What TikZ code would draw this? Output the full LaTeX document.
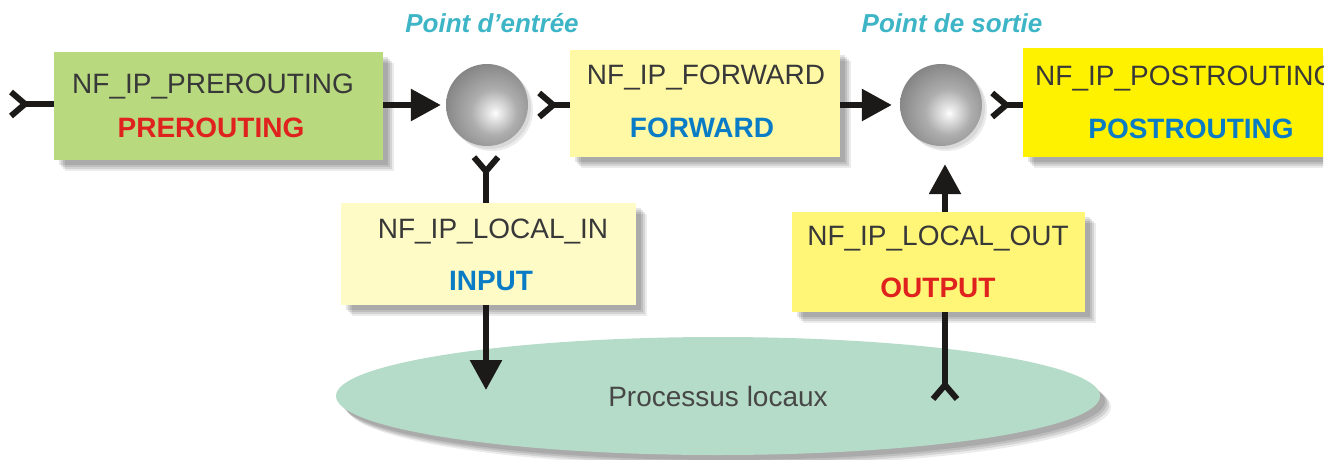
\documentclass[tikz,border=0pt]{standalone}
\usepackage{fontspec}
\setmainfont{Liberation Sans}
\usetikzlibrary{arrows.meta,shadows,shapes.geometric}
\definecolor{grn}{HTML}{B8D97E}
\definecolor{ylwfwd}{HTML}{FFF9A6}
\definecolor{ylwin}{HTML}{FFFBC6}
\definecolor{ylwout}{HTML}{FFF677}
\definecolor{ylwpost}{HTML}{FFF200}
\definecolor{ellc}{HTML}{B5DCC8}
\definecolor{hred}{HTML}{E0221E}
\definecolor{hblue}{HTML}{0A7CC6}
\definecolor{tealc}{HTML}{3DB5C6}
\definecolor{ink}{HTML}{1C1A18}
\pgfdeclareradialshading{spherefill}{\pgfpoint{5bp}{-5bp}}{color(0bp)=(white); color(3bp)=(white!92!black); color(14bp)=(white!68!black); color(30bp)=(white!52!black); color(45bp)=(white!40!black); color(52bp)=(white!35!black); color(100bp)=(white!35!black)}
\begin{document}
\begin{tikzpicture}[x=1pt,y=-1pt,
  softshadow/.style={
    general shadow={fill=black, opacity=.10, shadow xshift=5pt, shadow yshift=-5pt},
    general shadow={fill=black, opacity=.10, shadow xshift=7pt, shadow yshift=-7pt},
    general shadow={fill=black, opacity=.10, shadow xshift=9pt, shadow yshift=-9pt},
    general shadow={fill=black, opacity=.08, shadow xshift=11pt, shadow yshift=-11pt}},
  ballshadow/.style={
    general shadow={fill=black, opacity=.08, shadow xshift=3pt, shadow yshift=-3pt},
    general shadow={fill=black, opacity=.08, shadow xshift=5pt, shadow yshift=-5pt}},
  hookbox/.style={rectangle, inner sep=0, draw=none, softshadow},
  lbl/.style={inner sep=0, text height=20pt, text depth=0pt, font=\fontsize{28}{30}\selectfont, text=black!78},
  hook/.style={inner sep=0, text height=20pt, text depth=0pt, font=\fontsize{28}{30}\selectfont\bfseries},
  point/.style={inner sep=0, font=\fontsize{26}{28}\selectfont\bfseries\itshape, text=tealc},
  ball/.style={circle, minimum size=82pt, inner sep=0, shading=spherefill, ballshadow},
  conn/.style={draw=ink, line width=6pt},
  tailtip/.style={{Straight Barb[reversed, length=14pt, width=24pt, line width=6pt]}-},
  headtip/.style={-{Triangle[length=30pt, width=31pt]}}
]
\useasboundingbox (0,0) rectangle (1338,459);

% local processes
\node[ellipse, minimum width=764pt, minimum height=118pt, inner sep=0, fill=ellc, softshadow,
      font=\fontsize{28}{30}\selectfont, text=black!72] (proc) at (718,396) {Processus locaux};

% boxes
\node[hookbox, fill=grn, minimum width=329pt, minimum height=108pt] (pre) at (218.5,106) {};
\node[hookbox, fill=ylwfwd, minimum width=270pt, minimum height=107pt] (fwd) at (705,103.5) {};
\begin{scope}
  \clip (1000,30) rectangle (1323,190);
  \node[hookbox, fill=ylwpost, minimum width=300pt, minimum height=109pt] (post) at (1173,102.5) {};
  \node[lbl, anchor=west] (post1) at (1035,75) {NF\_IP\_POSTROUTING};
\end{scope}
\node[hookbox, fill=ylwin, minimum width=295pt, minimum height=102pt] (inp) at (488.5,254) {};
\node[hookbox, fill=ylwout, minimum width=293pt, minimum height=100pt] (outb) at (938.5,262) {};

% labels
\node[lbl] (pre1) at (213,83) {NF\_IP\_PREROUTING};
\node[hook, text=hred] (pre2) at (211,127) {PREROUTING};
\node[lbl] (fwd1) at (706,74) {NF\_IP\_FORWARD};
\node[hook, text=hblue] (fwd2) at (702,127) {FORWARD};
\node[hook, text=hblue] (post2) at (1191,128) {POSTROUTING};
\node[lbl] (inp1) at (493,228) {NF\_IP\_LOCAL\_IN};
\node[hook, text=hblue] (inp2) at (491,280) {INPUT};
\node[lbl] (out1) at (938,235) {NF\_IP\_LOCAL\_OUT};
\node[hook, text=hred] (out2) at (938,287) {OUTPUT};

% decision points
\node[ball] (c1) at (487,105) {};
\node[ball] (c2) at (941,105) {};
\node[point] (pin) at (492,23) {Point d'entrée};
\node[point] (pout) at (952,23) {Point de sortie};

% connectors
\coordinate (entry) at (8,104);
\coordinate (toproc) at (486,390);
\coordinate (fromproc) at (945,402);
\draw[conn, tailtip] (entry) -- (entry -| pre.west);
\draw[conn, headtip, shorten >=5pt] (c1.west -| pre.east) -- (c1.west);
\draw[conn, tailtip, shorten <=8pt] (c1.east) -- (c1.east -| fwd.west);
\draw[conn, headtip, shorten >=8pt] (c2.west -| fwd.east) -- (c2.west);
\draw[conn, tailtip, shorten <=7pt] (c2.east) -- (c2.east -| post.west);
\draw[conn, tailtip, shorten <=8pt] (toproc |- c1.south) -- (toproc |- inp.north);
\draw[conn, headtip] (toproc |- inp.south) -- (toproc);
\draw[conn, tailtip] (fromproc) -- (fromproc |- outb.south);
\draw[conn, headtip, shorten >=18pt] (fromproc |- outb.north) -- (fromproc |- c2.south);
\end{tikzpicture}
\end{document}
